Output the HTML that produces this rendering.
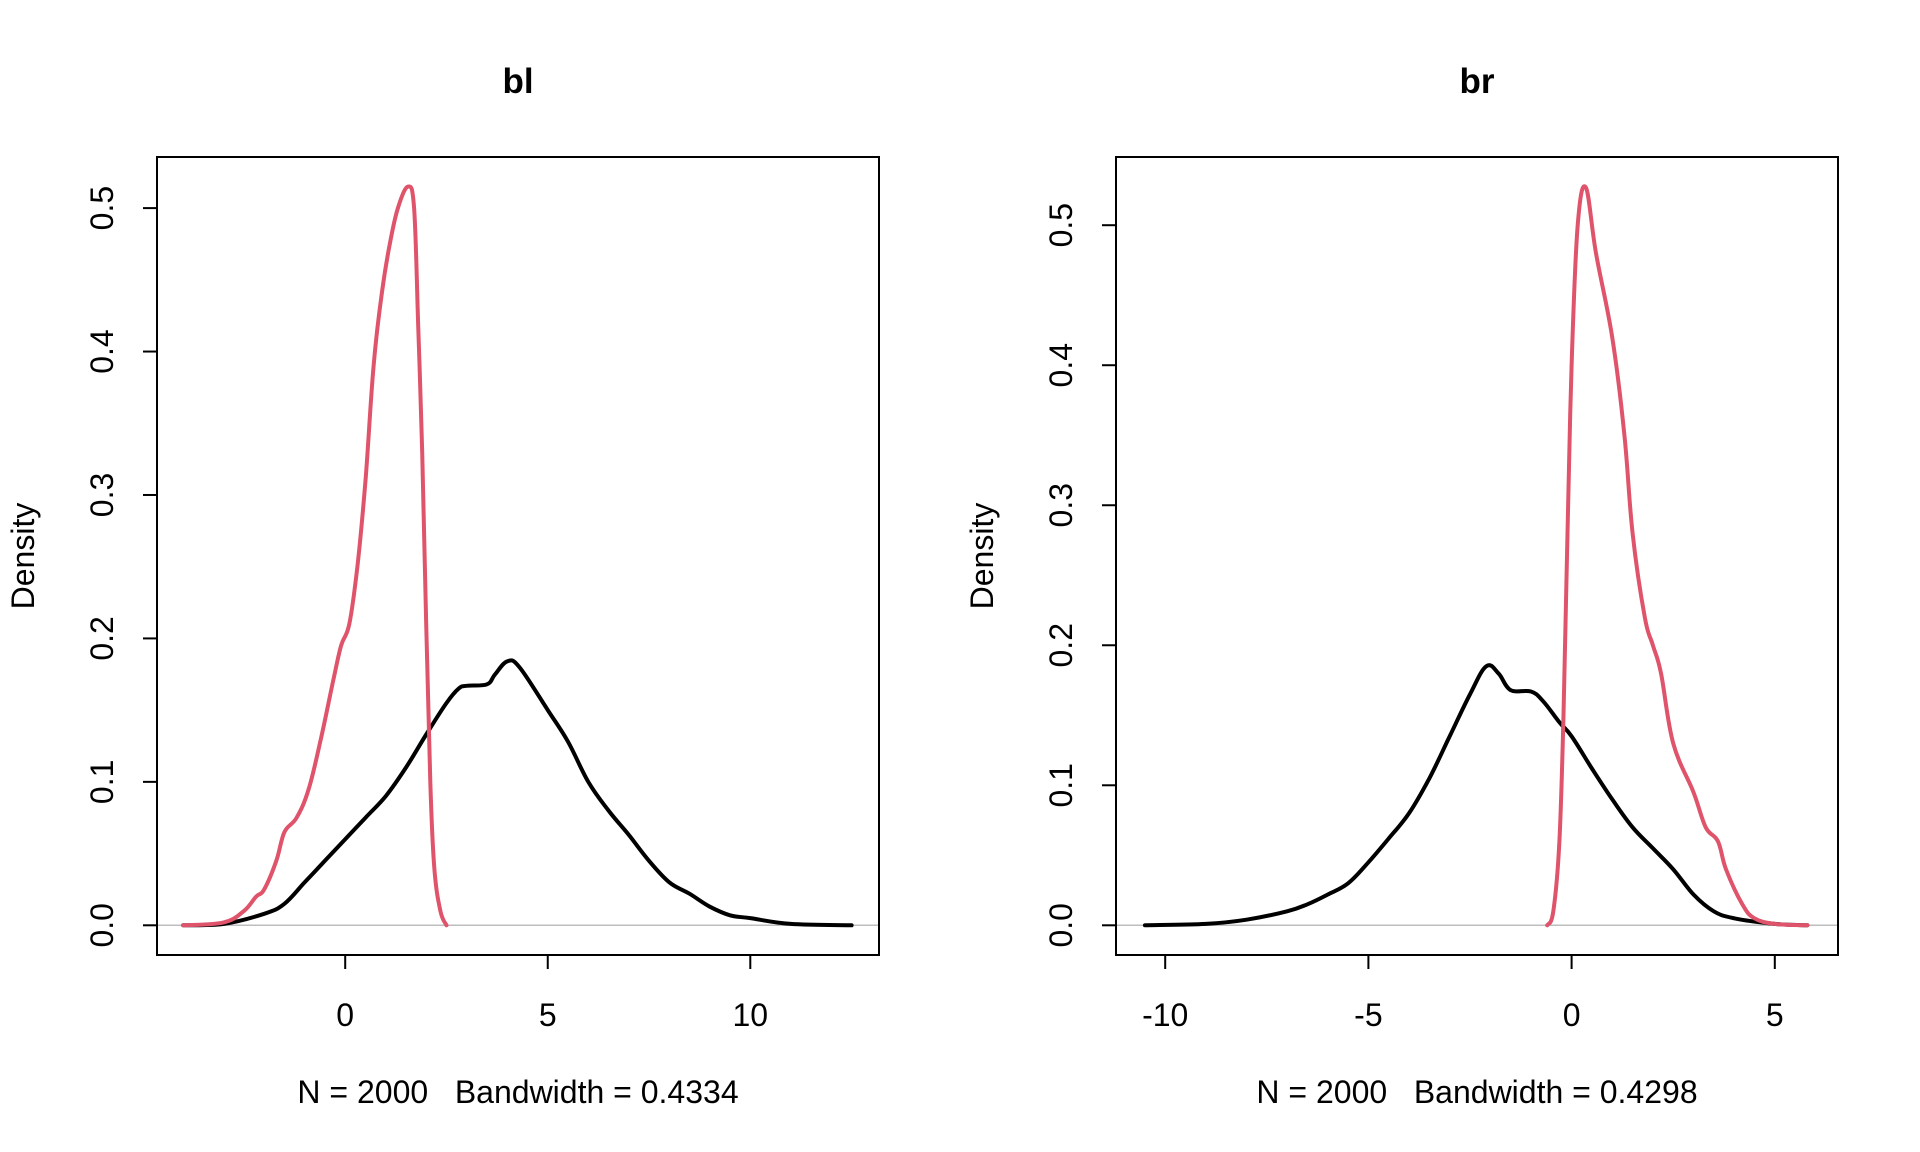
<!DOCTYPE html>
<html><head><meta charset="utf-8"><style>
html,body{margin:0;padding:0;background:#fff;}
svg{display:block;font-family:"Liberation Sans",Arial,sans-serif;}
text{white-space:pre;}
</style></head><body>
<svg id="chart" width="1920" height="1152" viewBox="0 0 1920 1152"></svg>
<script>
const blBlackX=[-4,-3,-2,-1.5,-1,-0.5,0,0.5,1,1.5,2,2.5,2.8,3,3.5,3.7,4,4.3,5,5.5,6,6.5,7,7.5,8,8.5,9,9.5,10,11,12.5];
const blBlackY=[0,0.001,0.008,0.015,0.03,0.045,0.06,0.075,0.09,0.11,0.133,0.155,0.165,0.167,0.168,0.175,0.184,0.18,0.15,0.128,0.1,0.08,0.063,0.045,0.03,0.022,0.013,0.007,0.005,0.001,0];
const blRedX=[-4,-3,-2.5,-2.2,-2,-1.7,-1.5,-1.2,-0.9,-0.6,-0.3,-0.1,0.1,0.3,0.5,0.7,0.9,1.1,1.3,1.55,1.7,1.8,1.9,2.0,2.1,2.2,2.35,2.5];
const blRedY=[0,0.002,0.01,0.02,0.025,0.045,0.065,0.075,0.095,0.13,0.17,0.195,0.21,0.25,0.31,0.39,0.44,0.475,0.5,0.515,0.5,0.42,0.33,0.21,0.1,0.04,0.01,0];
const brBlackX=[-10.5,-9,-8,-7,-6.5,-6,-5.5,-5,-4.5,-4,-3.5,-3,-2.5,-2.1,-1.8,-1.5,-1,-0.7,-0.3,0,0.5,1,1.5,2,2.5,3,3.5,4,5,5.8];
const brBlackY=[0,0.001,0.004,0.01,0.015,0.022,0.03,0.045,0.062,0.08,0.105,0.135,0.165,0.185,0.18,0.168,0.167,0.16,0.145,0.135,0.112,0.09,0.07,0.055,0.04,0.022,0.01,0.005,0.001,0];
const brRedX=[-0.6,-0.45,-0.3,-0.2,-0.1,0,0.15,0.35,0.6,1,1.3,1.5,1.8,2,2.2,2.5,3,3.3,3.6,3.8,4.2,4.5,5,5.8];
const brRedY=[0,0.01,0.06,0.15,0.28,0.4,0.5,0.527,0.48,0.42,0.35,0.28,0.22,0.2,0.18,0.13,0.095,0.07,0.06,0.04,0.015,0.005,0.001,0];
const xTicksL=[0,5,10], xTicksR=[-10,-5,0,5], yTicks=[0,0.1,0.2,0.3,0.4,0.5];
const titles=["bl","br"], subs=["N = 2000   Bandwidth = 0.4334","N = 2000   Bandwidth = 0.4298"];

const svg=document.getElementById('chart');
const NS='http://www.w3.org/2000/svg';
function mk(tag,attrs,parent){const e=document.createElementNS(NS,tag);for(const k in attrs)e.setAttribute(k,attrs[k]);(parent||svg).appendChild(e);return e;}
function smooth(P){
 let d='M'+P[0][0].toFixed(1)+','+P[0][1].toFixed(1);
 for(let i=0;i<P.length-1;i++){
  const p0=P[Math.max(0,i-1)],p1=P[i],p2=P[i+1],p3=P[Math.min(P.length-1,i+2)];
  const t=0.18;
  const c1=[p1[0]+(p2[0]-p0[0])*t,p1[1]+(p2[1]-p0[1])*t];
  const c2=[p2[0]-(p3[0]-p1[0])*t,p2[1]-(p3[1]-p1[1])*t];
  d+=' C'+c1[0].toFixed(1)+','+c1[1].toFixed(1)+' '+c2[0].toFixed(1)+','+c2[1].toFixed(1)+' '+p2[0].toFixed(1)+','+p2[1].toFixed(1);
 }
 return d;
}
const panels=[
 {box:[157,157,879,955], x0:345.2, xs:(750.3-345.2)/10, y0:925.3, ys:(925.3-208.1)/0.5, xt:xTicksL, cx:[blBlackX,blRedX], cy:[blBlackY,blRedY]},
 {box:[1116,157,1838,955], x0:1571.6, xs:(1774.8-1571.6)/5, y0:925.3, ys:(925.3-225.2)/0.5, xt:xTicksR, cx:[brBlackX,brRedX], cy:[brBlackY,brRedY]}
];
panels.forEach((p,i)=>{
 const g=mk('g',{});
 
 
 const X=v=>p.x0+v*p.xs, Y=v=>p.y0-v*p.ys;
 const [l,t,r,b]=p.box, cxm=(l+r)/2;
 const ti=mk('text',{x:cxm,y:93,'text-anchor':'middle','font-size':35,'font-weight':'bold'},g);ti.textContent=titles[i];
 
 
 const bl=mk('line',{x1:l,x2:r,y1:Y(0),y2:Y(0),stroke:'#bebebe','stroke-width':1.5},g);
 
 
 const cols=['#000','#df536b'], nm=['density-black','density-red'];
 p.cx.forEach((xs,k)=>{
  const P=xs.map((v,j)=>[X(v),Y(p.cy[k][j])]);
  const pl=mk('path',{d:smooth(P),fill:'none',stroke:cols[k],'stroke-width':4,'stroke-linejoin':'round','stroke-linecap':'round'},g);
  
  
 });
 const bx=mk('rect',{x:l,y:t,width:r-l,height:b-t,fill:'none',stroke:'#000','stroke-width':2},g);
 
 
 p.xt.forEach(v=>{
  mk('line',{x1:X(v),x2:X(v),y1:b,y2:b+14,stroke:'#000','stroke-width':2},g);
  const tx=mk('text',{x:X(v),y:1026,'text-anchor':'middle','font-size':32},g);tx.textContent=String(v);
  
  
 });
 yTicks.forEach(v=>{
  mk('line',{x1:l-14,x2:l,y1:Y(v),y2:Y(v),stroke:'#000','stroke-width':2},g);
  const ty=mk('text',{x:0,y:0,'text-anchor':'middle','font-size':32,transform:`translate(${l-44},${Y(v)}) rotate(-90)`},g);ty.textContent=v.toFixed(1);
  
  
 });
 const yl=mk('text',{x:0,y:0,'text-anchor':'middle','font-size':32,transform:`translate(${l-123},556) rotate(-90)`},g);yl.textContent='Density';
 
 
 const st=mk('text',{x:cxm,y:1103,'text-anchor':'middle','font-size':32},g);st.textContent=subs[i];
 
 
});
</script>
</body></html>
